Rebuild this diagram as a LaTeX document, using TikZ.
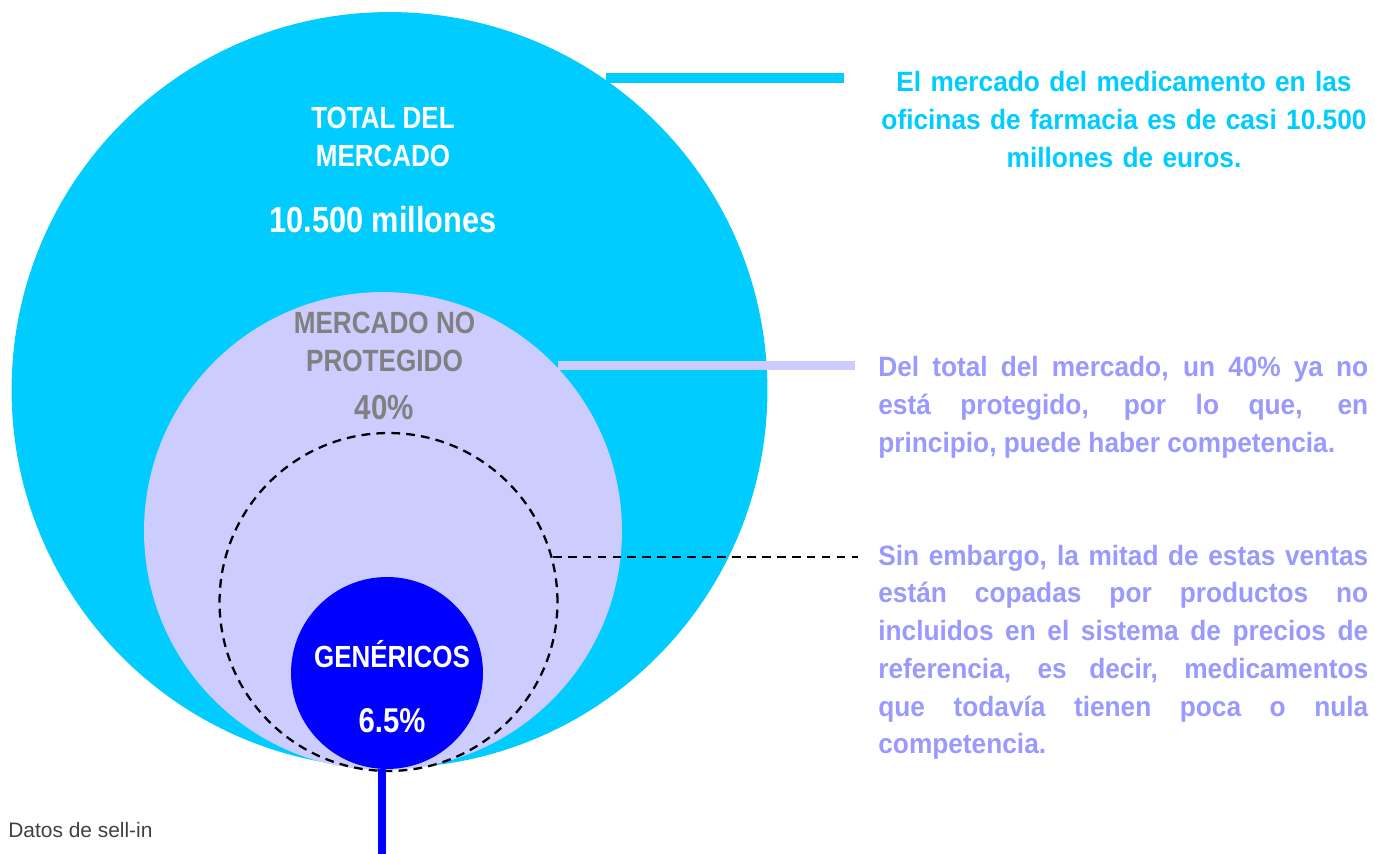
\documentclass[tikz,border=0pt]{standalone}
\usepackage{fontspec}
\setmainfont{Liberation Sans}
\newfontfamily\lblfont[FakeStretch=0.85]{Liberation Sans}
\newfontfamily\notefont[FakeStretch=0.94]{Liberation Sans}
\definecolor{mktcyan}{HTML}{00CCFF}
\definecolor{mktlav}{HTML}{CCCCFF}
\definecolor{mktblue}{HTML}{0000FF}
\definecolor{notelav}{HTML}{9999FF}
\definecolor{lblgray}{HTML}{808080}
\definecolor{srcgray}{HTML}{404040}
\tikzstyle{bubble} = [circle, inner sep=0pt, draw=none]
\tikzstyle{lbl} = [align=center, inner sep=0pt, anchor=base]
\tikzstyle{note} = [font=\notefont\bfseries\fontsize{15.9}{21.5}\selectfont, inner sep=0pt, text width=9.8cm]
\tikzstyle{link} = [line width=5.4pt]
\tikzstyle{halfdash} = [line width=1.3pt, dash pattern=on 5pt off 3.5pt]

\begin{document}
\begin{tikzpicture}[x=0.02cm, y=-0.02cm]
\useasboundingbox (0,0) rectangle (1375,854);

\node at (389.5, 390) (total) [bubble, fill=mktcyan, minimum size=15.12cm] {};
\node at (383, 531) (libre) [bubble, fill=mktlav, minimum size=9.56cm] {};
\node at (387, 673) (gen) [bubble, fill=mktblue, minimum size=3.84cm] {};
\node at (388.5, 602) (half) [bubble, draw=black, halfdash, minimum size=6.76cm] {};

% multi-line labels sit on their last baseline
\node at (383, 167) (totaltxt) [lbl, text=white, font=\lblfont\bfseries\fontsize{17.4}{22}\selectfont] {TOTAL DEL\\MERCADO};
\node at (383, 232.7) (totalval) [lbl, text=white, font=\lblfont\bfseries\fontsize{20.6}{25}\selectfont] {10.500 millones};
\node at (384.5, 371.7) (libretxt) [lbl, text=lblgray, font=\lblfont\bfseries\fontsize{17.5}{22}\selectfont] {MERCADO NO\\PROTEGIDO};
\node at (384.5, 419.3) (libreval) [lbl, text=lblgray, font=\lblfont\bfseries\fontsize{19.8}{24}\selectfont] {40\%};
\node at (392, 667) (gentxt) [lbl, text=white, font=\lblfont\bfseries\fontsize{17.4}{21}\selectfont] {GENÉRICOS};
\node at (392, 732.7) (genval) [lbl, text=white, font=\lblfont\bfseries\fontsize{19.6}{24}\selectfont] {6.5\%};

\node at (1124, 92) (totalnote) [note, anchor=base, align=center, text=mktcyan] {El mercado del medicamento en las\\oficinas de farmacia es de casi 10.500\\millones de euros.};
\node at (878, 377) (librenote) [note, anchor=base west, align=justify, text=notelav] {Del total del mercado, un 40\% ya no\linebreak está protegido, por lo que, en\linebreak principio, puede haber competencia.};
\node at (878, 565) (halfnote) [note, anchor=base west, align=justify, text=notelav] {Sin embargo, la mitad de estas ventas\linebreak están copadas por productos no\linebreak incluidos en el sistema de precios de\linebreak referencia, es decir, medicamentos\linebreak que todavía tienen poca o nula\linebreak competencia.};

\node at (8, 837.7) (source) [anchor=base west, inner sep=0pt, text=srcgray, font=\fontsize{11.9}{14}\selectfont] {Datos de sell-in};

% connectors
\coordinate (totalend) at (844, 78);
\coordinate (libreend) at (855, 365.5);
\coordinate (halfend) at (858, 557);
\coordinate (gentail) at (382, 854);
\draw [link, mktcyan] (totalend -| total.55.6) -- (totalend);
\draw [link, mktlav, line width=5.1pt] (libreend -| libre.43.8) -- (libreend);
\draw [halfdash, black] (halfend -| half.15.4) -- (halfend);
\draw [link, mktblue, line width=5.1pt] (gentail |- gen.south) -- (gentail);

\end{tikzpicture}
\end{document}
